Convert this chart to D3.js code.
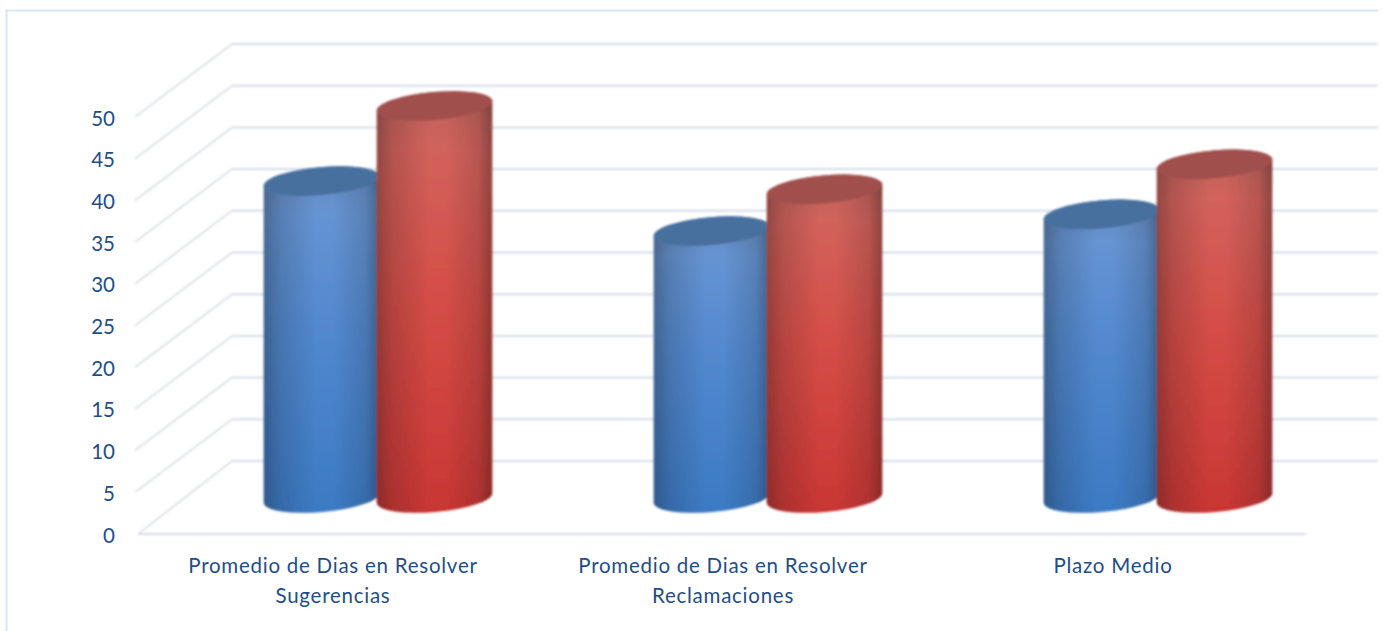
<!DOCTYPE html>
<html><head><meta charset="utf-8">
<script src="https://cdnjs.cloudflare.com/ajax/libs/d3/7.8.5/d3.min.js"></script>
<style>html,body{margin:0;padding:0;background:#fff;overflow:hidden}svg{display:block}text{font-family:Lato,"Open Sans",sans-serif;fill:#1f4e87}</style>
</head><body><svg id="c" width="1383" height="631"></svg>
<script>
const categories = [["Promedio de Dias en Resolver","Sugerencias"],["Promedio de Dias en Resolver","Reclamaciones"],["Plazo Medio"]];
const seriesA = [38, 32, 34];
const seriesB = [47, 37, 40];
const ticks = [0,5,10,15,20,25,30,35,40,45,50];

const W=1383,H=631;
const svg=d3.select("#c");
const defs=svg.append("defs");
defs.append("filter").attr("id","soft").attr("x","-5%").attr("y","-5%").attr("width","110%").attr("height","110%")
  .append("feGaussianBlur").attr("stdDeviation",0.8);
const grad=(id,dir,stops)=>{const g=defs.append("linearGradient").attr("id",id);
  if(dir==="v")g.attr("x1",0).attr("y1",0).attr("x2",0).attr("y2",1);
  stops.forEach(s=>g.append("stop").attr("offset",s[0]).attr("stop-color",s[1]).attr("stop-opacity",s[2]===undefined?1:s[2]));};
grad("bodyA","v",[[0,"#6e98d4"],[.45,"#5389cf"],[1,"#3c7ac4"]]);
grad("bodyB","v",[[0,"#d26a63"],[.5,"#d44d47"],[1,"#c93634"]]);
grad("shade","h",[[0,"#111",.32],[.14,"#111",.16],[.45,"#111",0],[.6,"#111",0],[.88,"#111",.14],[1,"#111",.36]]);
grad("topShade","v",[[0,"#222",.24],[.07,"#222",.06],[.14,"#222",0]]);

const yBack=d3.scaleLinear().domain([0,50]).range([461,44]);
const yFront=d3.scaleLinear().domain([0,50]).range([534,117]);
const yMid=d3.scaleLinear().domain([0,50]).range([498,81]);
const xBand=d3.scaleBand().domain(d3.range(categories.length)).range([183,1353]);
const xInner=d3.scaleBand().domain(["a","b"]).range([265-183,491-183]);

// frame
svg.append("path").attr("d",`M6.5,${H}V10.5H1378`).attr("fill","none").attr("stroke","#d8e6f7").attr("stroke-width",2);

// grid
const grid=svg.append("g").attr("filter","url(#soft)");
ticks.forEach(t=>{
  grid.append("line").attr("x1",t===0?138:135).attr("y1",yFront(t)).attr("x2",232).attr("y2",yBack(t)).attr("stroke","#cfd2da").attr("stroke-width",1.3);
  grid.append("line").attr("x1",232).attr("y1",yBack(t)).attr("x2",1378).attr("y2",yBack(t)).attr("stroke","#d4dbea").attr("stroke-width",2);
});
grid.append("line").attr("x1",138).attr("y1",yFront(0)).attr("x2",1306).attr("y2",yFront(0)).attr("stroke","#d4dbea").attr("stroke-width",2.2);

// cylinders
const rx=58,ry=14,deg=-5,a=deg*Math.PI/180;
const dx=rx*Math.cos(a),dy=rx*Math.sin(a);
function cyl(g,cx,v,fill,cap){
  const base=yMid(0),top=yMid(v);
  const p=`M${cx-dx},${top-dy}A${rx},${ry} ${deg} 0 1 ${cx+dx},${top+dy}L${cx+dx},${base+dy}A${rx},${ry} ${deg} 0 1 ${cx-dx},${base-dy}Z`;
  g.append("path").attr("d",p).attr("fill",fill);
  g.append("path").attr("d",p).attr("fill","url(#topShade)");
  g.append("path").attr("d",p).attr("fill","url(#shade)");
  g.append("ellipse").attr("cx",cx).attr("cy",top).attr("rx",rx).attr("ry",ry)
    .attr("transform",`rotate(${deg} ${cx} ${top})`).attr("fill",cap);
}
const marks=svg.append("g").attr("filter","url(#soft)");
categories.forEach((c,i)=>{
  const x0=xBand(i);
  cyl(marks,x0+xInner("a")+xInner.bandwidth()/2,seriesA[i],"url(#bodyA)","#47709f");
  cyl(marks,x0+xInner("b")+xInner.bandwidth()/2,seriesB[i],"url(#bodyB)","#a1504d");
});

// value axis
const ax=svg.append("g").attr("transform","translate(115,1.5)")
  .call(d3.axisLeft(yFront).tickValues(ticks).tickSize(0).tickPadding(0).tickFormat(d3.format("d")));
ax.select(".domain").remove();
ax.selectAll("text").style("font-family","Lato").style("font-size","20.5px").style("fill","#1f4e87");

// category labels
categories.forEach((c,i)=>{
  const t=svg.append("text").attr("text-anchor","middle").attr("font-size",20.5).attr("letter-spacing",0.75);
  c.forEach((s,j)=>t.append("tspan").attr("x",xBand(i)+xBand.bandwidth()/2-45).attr("y",573+j*30).text(s));
});
</script></body></html>
